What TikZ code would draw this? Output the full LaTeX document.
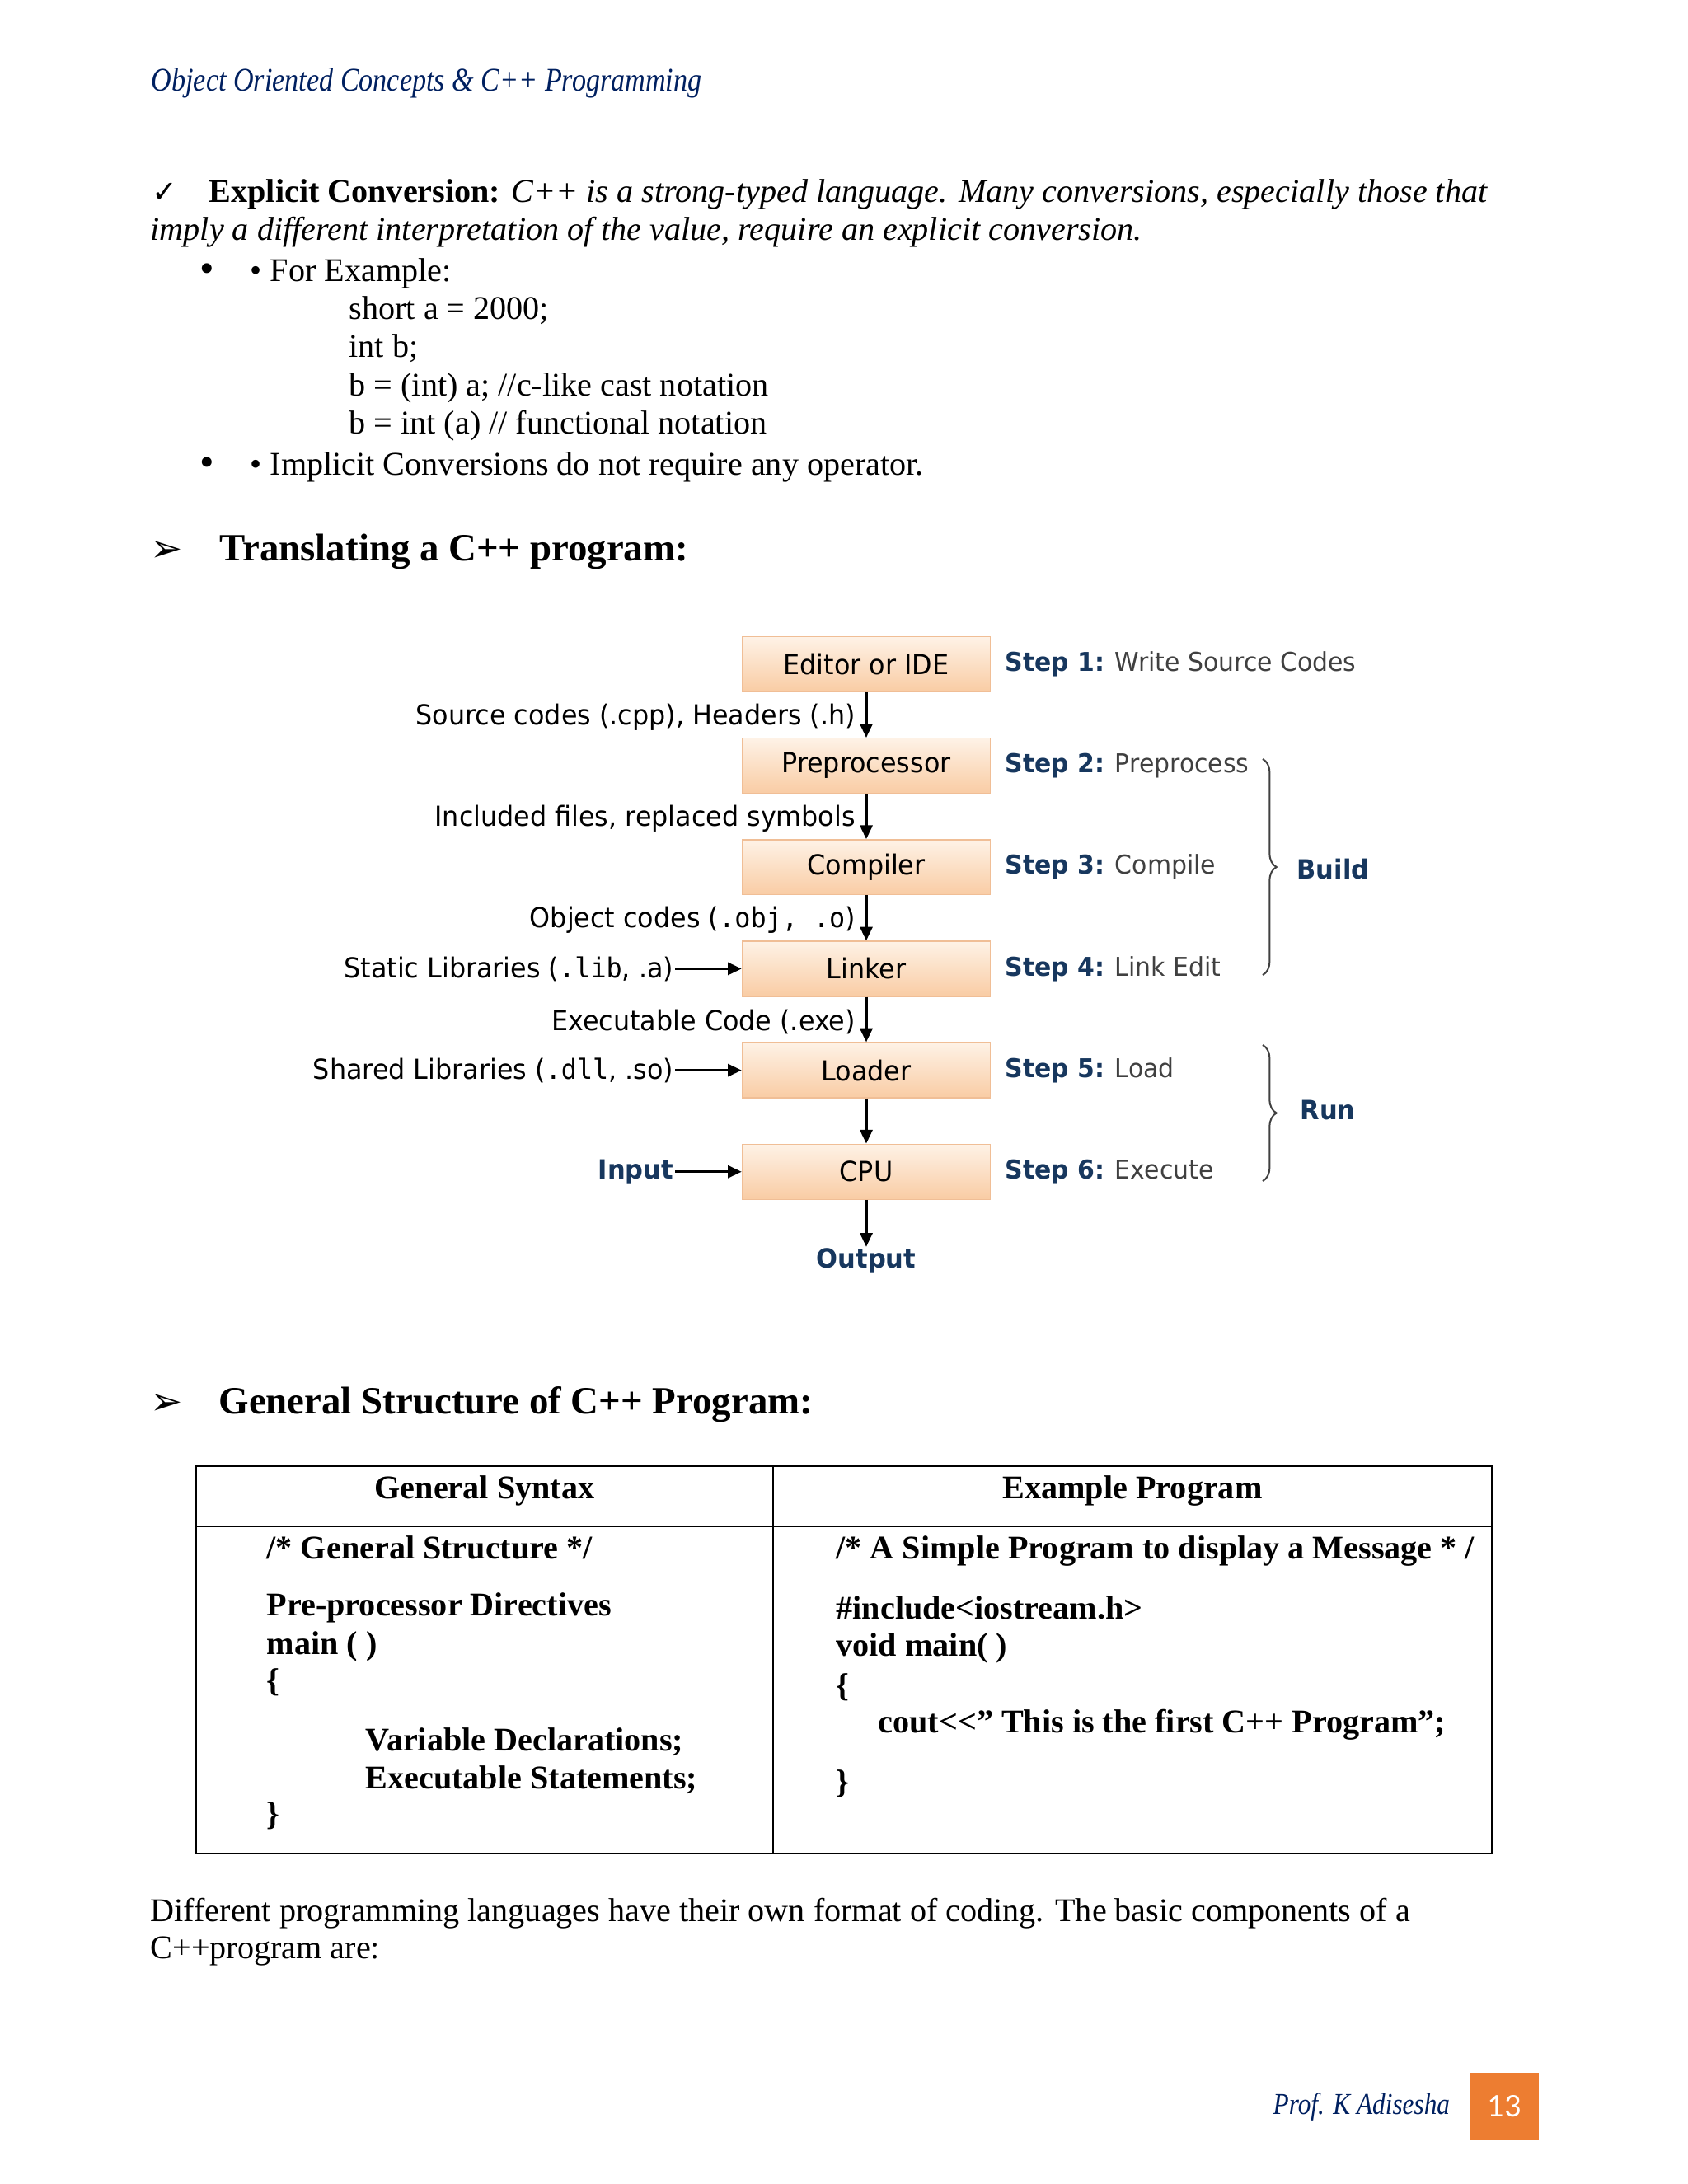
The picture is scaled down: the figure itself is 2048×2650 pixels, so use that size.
\documentclass[tikz,border=0pt]{standalone}
\usepackage{fontspec}
\setmainfont{Liberation Serif}
\newfontfamily\headfont[FakeStretch=0.85]{Liberation Serif}
\newfontfamily\diagfont[FakeStretch=0.95]{DejaVu Sans}
\newfontfamily\diagmono[FakeStretch=0.95]{DejaVu Sans Mono}
\newfontfamily\symfont{DejaVu Sans}
\newfontfamily\numfont{Carlito}
\usetikzlibrary{arrows.meta,positioning,decorations.pathreplacing}
\definecolor{pgnavy}{RGB}{0,32,96}
\definecolor{stepblue}{RGB}{23,55,94}
\definecolor{stepgray}{RGB}{64,64,64}
\definecolor{boxtop}{RGB}{254,242,230}
\definecolor{boxbot}{RGB}{249,204,164}
\definecolor{boxline}{RGB}{240,190,150}
\definecolor{pgorange}{RGB}{237,125,49}

\begin{document}
\begin{tikzpicture}[x=0.29883pt,y=-0.29883pt,
    txt/.style={anchor=base west,inner sep=0pt,font=\fontsize{12}{14}\selectfont},
    tbl/.style={txt,font=\fontsize{12}{14}\selectfont\bfseries},
    stage/.style={draw=boxline,top color=boxtop,bottom color=boxbot,minimum width=90pt,minimum height=20pt,inner sep=0pt,font=\diagfont\fontsize{10}{12}\selectfont},
    lbl/.style={inner sep=0.5pt,font=\diagfont\fontsize{10}{12}\selectfont},
    steptxt/.style={anchor=west,inner sep=0pt,text=stepgray,font=\diagfont\fontsize{9.4}{11}\selectfont},
    grp/.style={anchor=west,inner sep=0pt,text=stepblue,font=\diagfont\bfseries\fontsize{9.6}{12}\selectfont},
    flow/.style={-{Triangle[length=5pt,width=4.5pt]},line width=0.9pt},
    node distance=16.4pt]
  \useasboundingbox[fill=white] (0,0) rectangle (2048,2650);

  % running head
  \node[txt,text=pgnavy,font=\headfont\fontsize{12}{14}\selectfont\itshape] (head) at (183,110) {Object Oriented Concepts \& C++ Programming};

  % explicit conversion
  \node[txt,font=\symfont\bfseries\fontsize{11}{13}\selectfont] (tick) at (184,245) {✓};
  \node[txt] (expl1) at (253,245) {\textbf{Explicit Conversion:} \textit{C++ is a strong-typed language. Many conversions, especially those that}};
  \node[txt] (expl2) at (182,291) {\textit{imply a different interpretation of the value, require an explicit conversion.}};
  \node[txt,font=\fontsize{15}{14}\selectfont] (dot1) at (242,342) {•};
  \node[txt] (ex) at (303,341) {• For Example:};
  \node[txt] (c1) at (423,387) {short a = 2000;};
  \node[txt] (c2) at (423,433) {int b;};
  \node[txt] (c3) at (423,480) {b = (int) a; //c-like cast notation};
  \node[txt] (c4) at (423,526) {b = int (a) // functional notation};
  \node[txt,font=\fontsize{15}{14}\selectfont] (dot2) at (242,577) {•};
  \node[txt] (impl) at (303,576) {• Implicit Conversions do not require any operator.};

  % heading 1
  \node[txt,font=\symfont\bfseries\fontsize{14}{15}\selectfont] (arr1) at (182,681) {➢};
  \node[txt,font=\fontsize{14}{16}\selectfont\bfseries] (sec1) at (266,680) {Translating a C++ program:};

  % translation stages
  \node[stage] (ide) at (1051,806) {Editor or IDE};
  \node[stage,below=of ide] (pre) {Preprocessor};
  \node[stage,below=of pre] (cmp) {Compiler};
  \node[stage,below=of cmp] (lnk) {Linker};
  \node[stage,below=of lnk] (ldr) {Loader};
  \node[stage,below=of ldr] (cpu) {CPU};
  \node[lbl,below=17pt of cpu,text=stepblue,font=\diagfont\bfseries\fontsize{9.6}{12}\selectfont] (out) {Output};

  \draw[flow] (ide) -- node[lbl,left=3pt,pos=0.55] (srclbl) {Source codes (.cpp), Headers (.h)} (pre);
  \draw[flow] (pre) -- node[lbl,left=3pt,pos=0.55] (inclbl) {Included files, replaced symbols} (cmp);
  \draw[flow] (cmp) -- node[lbl,left=3pt,pos=0.55] (objlbl) {Object codes ({\diagmono .obj, .o})} (lnk);
  \draw[flow] (lnk) -- node[lbl,left=3pt,pos=0.55] (exelbl) {Executable Code (.exe)} (ldr);
  \draw[flow] (ldr) -- (cpu);
  \draw[flow] (cpu) -- (out);

  \node[lbl,left=24pt of lnk] (stlib) {Static Libraries ({\diagmono .lib}, .a)};
  \node[lbl,left=24pt of ldr] (shlib) {Shared Libraries ({\diagmono .dll}, .so)};
  \node[lbl,left=24pt of cpu,text=stepblue,font=\diagfont\bfseries\fontsize{9.6}{12}\selectfont] (inp) {Input};
  \draw[flow] (stlib) -- (lnk);
  \draw[flow] (shlib) -- (ldr);
  \draw[flow] (inp) -- (cpu);

  \node[steptxt,right=5pt of ide] (s1) {\textcolor{stepblue}{\bfseries Step 1:} Write Source Codes};
  \node[steptxt,right=5pt of pre] (s2) {\textcolor{stepblue}{\bfseries Step 2:} Preprocess};
  \node[steptxt,right=5pt of cmp] (s3) {\textcolor{stepblue}{\bfseries Step 3:} Compile};
  \node[steptxt,right=5pt of lnk] (s4) {\textcolor{stepblue}{\bfseries Step 4:} Link Edit};
  \node[steptxt,right=5pt of ldr] (s5) {\textcolor{stepblue}{\bfseries Step 5:} Load};
  \node[steptxt,right=5pt of cpu] (s6) {\textcolor{stepblue}{\bfseries Step 6:} Execute};

  % build / run braces
  \coordinate (bt) at (1532,921);
  \coordinate (bb) at (1532,1183);
  \coordinate (rt) at (1532,1268);
  \coordinate (rb) at (1532,1433);
  \draw[decorate,decoration={brace,amplitude=5pt},stepgray,line width=0.6pt] (bt) -- (bb);
  \draw[decorate,decoration={brace,amplitude=5pt},stepgray,line width=0.6pt] (rt) -- (rb);
  \node[grp] (build) at (1573,1055) {Build};
  \node[grp] (run) at (1577,1347) {Run};

  % heading 2
  \node[txt,font=\symfont\bfseries\fontsize{14}{15}\selectfont] (arr2) at (182,1716) {➢};
  \node[txt,font=\fontsize{14}{16}\selectfont\bfseries] (sec2) at (265,1715) {General Structure of C++ Program:};

  % structure table
  \draw[line width=0.8pt] (238,1779) rectangle (1810,2249);
  \draw[line width=0.8pt] (938,1779) -- (938,2249);
  \draw[line width=0.8pt] (238,1852) -- (1810,1852);
  \node[tbl,anchor=base] (th1) at (588,1818) {General Syntax};
  \node[tbl,anchor=base] (th2) at (1374,1818) {Example Program};
  \node[tbl] (g1) at (323,1891) {/* General Structure */};
  \node[tbl] (g2) at (323,1960) {Pre-processor Directives};
  \node[tbl] (g3) at (323,2007) {main ( )};
  \node[tbl] (g4) at (323,2052) {\{};
  \node[tbl] (g5) at (443,2124) {Variable Declarations;};
  \node[tbl] (g6) at (443,2170) {Executable Statements;};
  \node[tbl] (g7) at (323,2214) {\}};
  \node[tbl] (p1) at (1014,1891) {/* A Simple Program to display a Message * /};
  \node[tbl] (p2) at (1014,1964) {\#include<iostream.h>};
  \node[tbl] (p3) at (1014,2009) {void main( )};
  \node[tbl] (p4) at (1014,2058) {\{};
  \node[tbl] (p5) at (1065,2102) {cout<{}<” This is the first C++ Program”;};
  \node[tbl] (p6) at (1014,2175) {\}};

  % closing text
  \node[txt] (para1) at (182,2331) {Different programming languages have their own format of coding. The basic components of a};
  \node[txt] (para2) at (182,2376) {C++program are:};

  % footer
  \node[txt,text=pgnavy,font=\headfont\fontsize{11}{13}\selectfont\itshape] (auth) at (1544,2565) {Prof. K Adisesha};
  \node[fill=pgorange,minimum width=24.8pt,minimum height=24.5pt,inner sep=0pt,text=white,font=\numfont\fontsize{12}{14}\selectfont] (pgno) at (1825,2556) {13};
\end{tikzpicture}
\end{document}
